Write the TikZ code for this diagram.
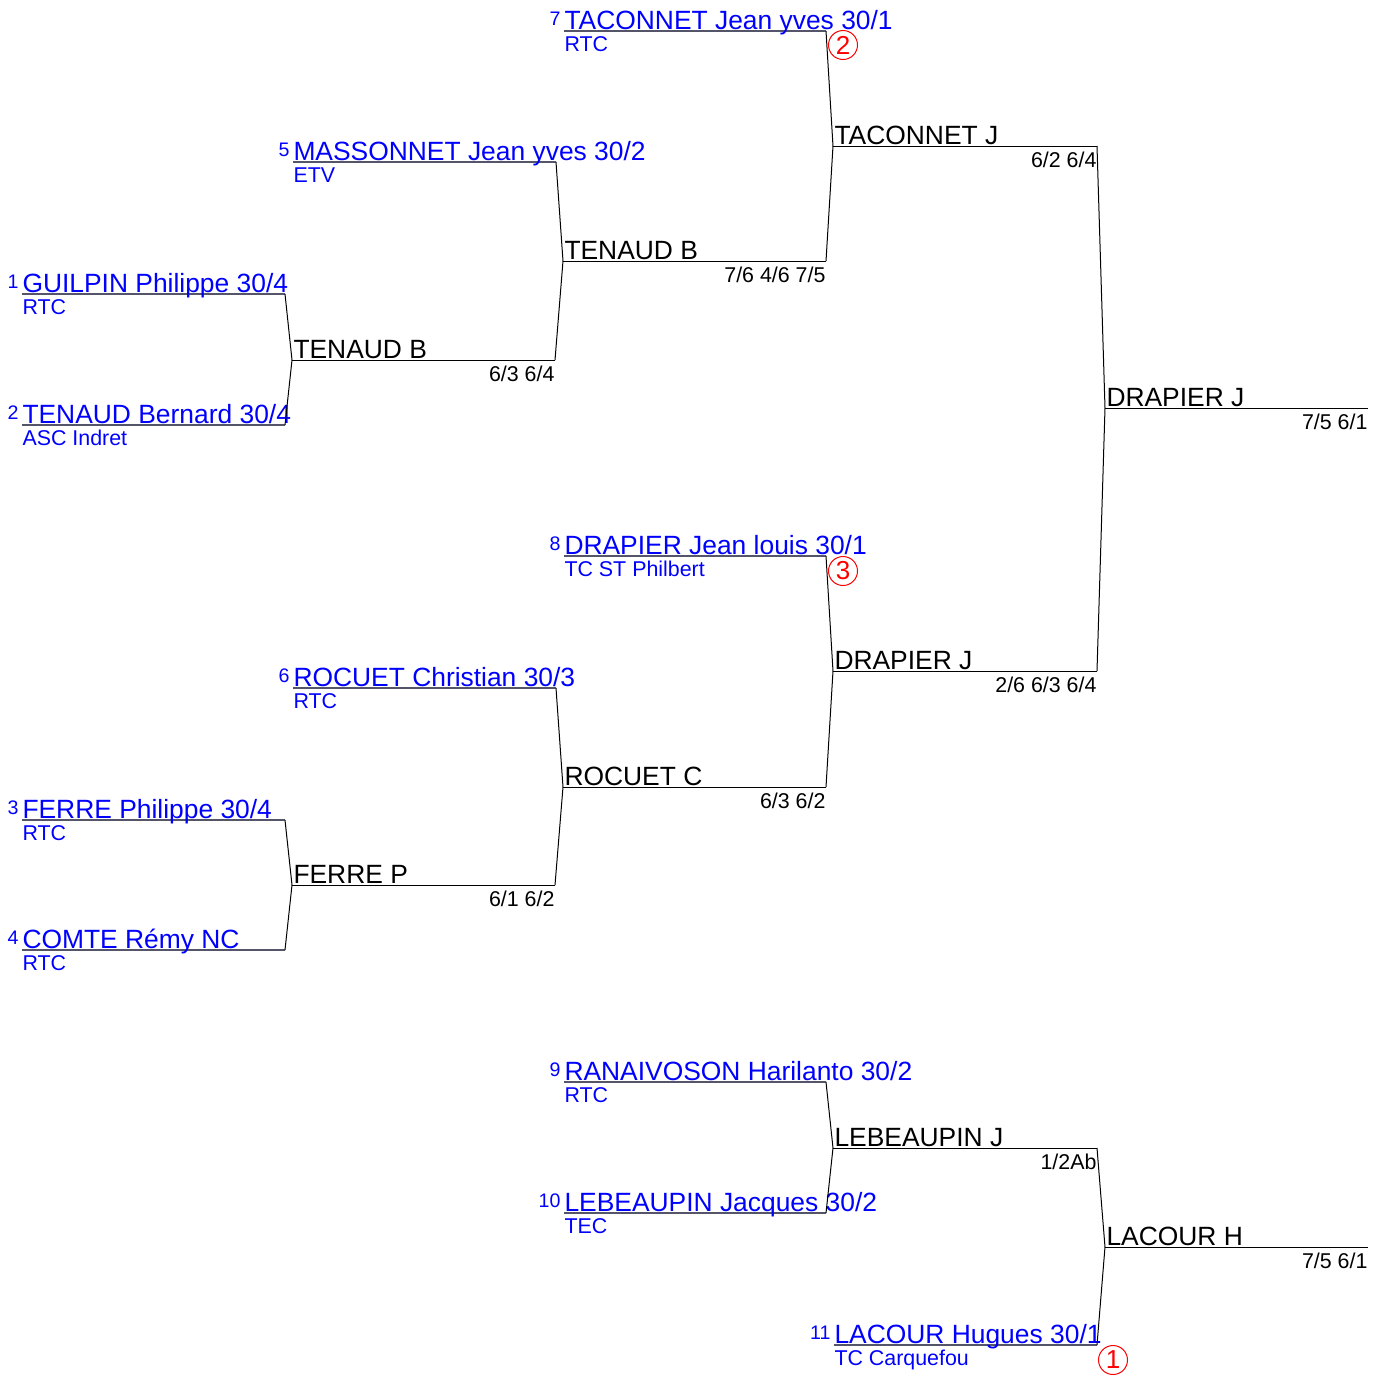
\documentclass[tikz,border=0pt]{standalone}
\usepackage{fontspec}
\setmainfont{Liberation Sans}
\definecolor{linkblue}{RGB}{0,0,255}
\definecolor{linegray}{RGB}{85,85,105}
\begin{document}
\begin{tikzpicture}[x=0.5pt,y=-0.5pt,line width=0.5pt,
  plline/.style={draw=linegray,line width=0.6pt},
  plname/.style={anchor=base west,inner sep=0pt,text=linkblue,font=\fontsize{13.2}{15}\selectfont},
  club/.style={anchor=base west,inner sep=0pt,text=linkblue,font=\fontsize{10.7}{12}\selectfont},
  seed/.style={anchor=base east,inner sep=0pt,text=linkblue,font=\fontsize{9.8}{11}\selectfont},
  winner/.style={anchor=base west,inner sep=0pt,font=\fontsize{13.2}{15}\selectfont},
  score/.style={anchor=base east,inner sep=0pt,font=\fontsize{10.7}{12}\selectfont},
  rank/.style={circle,draw=red,text=red,line width=0.5pt,minimum size=14.5pt,inner sep=0pt,font=\fontsize{13}{13}\selectfont}]
\useasboundingbox (0,0) rectangle (1381,1382);

% players
\draw[plline] (22,294) coordinate (p1) -- (285,294) coordinate (p1e);
\node[seed] (s1) at (19,288) {1};
\node[plname] (n1) at (22,292) {GUILPIN Philippe 30/4};
\node[club] (c1) at (22,314) {RTC};

\draw[plline] (22,425) coordinate (p2) -- (285,425) coordinate (p2e);
\node[seed] (s2) at (19,419) {2};
\node[plname] (n2) at (22,423) {TENAUD Bernard 30/4};
\node[club] (c2) at (22,445) {ASC Indret};

\draw[plline] (22,820) coordinate (p3) -- (285,820) coordinate (p3e);
\node[seed] (s3) at (19,814) {3};
\node[plname] (n3) at (22,818) {FERRE Philippe 30/4};
\node[club] (c3) at (22,840) {RTC};

\draw[plline] (22,950) coordinate (p4) -- (285,950) coordinate (p4e);
\node[seed] (s4) at (19,944) {4};
\node[plname] (n4) at (22,948) {COMTE Rémy NC};
\node[club] (c4) at (22,970) {RTC};

\draw[plline] (293,162) coordinate (p5) -- (556,162) coordinate (p5e);
\node[seed] (s5) at (290,156) {5};
\node[plname] (n5) at (293,160) {MASSONNET Jean yves 30/2};
\node[club] (c5) at (293,182) {ETV};

\draw[plline] (293,688) coordinate (p6) -- (556,688) coordinate (p6e);
\node[seed] (s6) at (290,682) {6};
\node[plname] (n6) at (293,686) {ROCUET Christian 30/3};
\node[club] (c6) at (293,708) {RTC};

\draw[plline] (564,31) coordinate (p7) -- (826,31) coordinate (p7e);
\node[seed] (s7) at (561,25) {7};
\node[plname] (n7) at (564,29) {TACONNET Jean yves 30/1};
\node[club] (c7) at (564,51) {RTC};
\node[rank] (r7) at (843,45) {2};

\draw[plline] (564,556) coordinate (p8) -- (826,556) coordinate (p8e);
\node[seed] (s8) at (561,550) {8};
\node[plname] (n8) at (564,554) {DRAPIER Jean louis 30/1};
\node[club] (c8) at (564,576) {TC ST Philbert};
\node[rank] (r8) at (843,571) {3};

\draw[plline] (564,1082) coordinate (p9) -- (826,1082) coordinate (p9e);
\node[seed] (s9) at (561,1076) {9};
\node[plname] (n9) at (564,1080) {RANAIVOSON Harilanto 30/2};
\node[club] (c9) at (564,1102) {RTC};

\draw[plline] (564,1213) coordinate (p10) -- (826,1213) coordinate (p10e);
\node[seed] (s10) at (561,1207) {10};
\node[plname] (n10) at (564,1211) {LEBEAUPIN Jacques 30/2};
\node[club] (c10) at (564,1233) {TEC};

\draw[plline] (834,1345) coordinate (p11) -- (1097,1345) coordinate (p11e);
\node[seed] (s11) at (831,1339) {11};
\node[plname] (n11) at (834,1343) {LACOUR Hugues 30/1};
\node[club] (c11) at (834,1365) {TC Carquefou};
\node[rank] (r11) at (1113,1360) {1};

% matches
\coordinate (m1) at (292,360);
\draw (p1e) -- (m1) -- (p2e);
\draw (m1) -- (555,360) coordinate (m1e);
\node[winner] (w1) at (293,358.5) {TENAUD B};
\node[score] (sc1) at (m1e |- 0,381) {6/3 6/4};

\coordinate (m2) at (563,261);
\draw (p5e) -- (m2) -- (m1e);
\draw (m2) -- (826,261) coordinate (m2e);
\node[winner] (w2) at (564,259.5) {TENAUD B};
\node[score] (sc2) at (m2e |- 0,282) {7/6 4/6 7/5};

\coordinate (m3) at (833,146);
\draw (p7e) -- (m3) -- (m2e);
\draw (m3) -- (1097,146) coordinate (m3e);
\node[winner] (w3) at (834,144.5) {TACONNET J};
\node[score] (sc3) at (m3e |- 0,167) {6/2 6/4};

\coordinate (m4) at (292,885);
\draw (p3e) -- (m4) -- (p4e);
\draw (m4) -- (555,885) coordinate (m4e);
\node[winner] (w4) at (293,883.5) {FERRE P};
\node[score] (sc4) at (m4e |- 0,906) {6/1 6/2};

\coordinate (m5) at (563,787);
\draw (p6e) -- (m5) -- (m4e);
\draw (m5) -- (826,787) coordinate (m5e);
\node[winner] (w5) at (564,785.5) {ROCUET C};
\node[score] (sc5) at (m5e |- 0,808) {6/3 6/2};

\coordinate (m6) at (833,671);
\draw (p8e) -- (m6) -- (m5e);
\draw (m6) -- (1097,671) coordinate (m6e);
\node[winner] (w6) at (834,669.5) {DRAPIER J};
\node[score] (sc6) at (m6e |- 0,692) {2/6 6/3 6/4};

\coordinate (m7) at (1105,408);
\draw (m3e) -- (m7) -- (m6e);
\draw (m7) -- (1368,408) coordinate (m7e);
\node[winner] (w7) at (1106,406.5) {DRAPIER J};
\node[score] (sc7) at (m7e |- 0,429) {7/5 6/1};

\coordinate (m8) at (833,1148);
\draw (p9e) -- (m8) -- (p10e);
\draw (m8) -- (1097,1148) coordinate (m8e);
\node[winner] (w8) at (834,1146.5) {LEBEAUPIN J};
\node[score] (sc8) at (m8e |- 0,1169) {1/2Ab};

\coordinate (m9) at (1105,1247);
\draw (m8e) -- (m9) -- (p11e);
\draw (m9) -- (1368,1247) coordinate (m9e);
\node[winner] (w9) at (1106,1245.5) {LACOUR H};
\node[score] (sc9) at (m9e |- 0,1268) {7/5 6/1};
\end{tikzpicture}
\end{document}
